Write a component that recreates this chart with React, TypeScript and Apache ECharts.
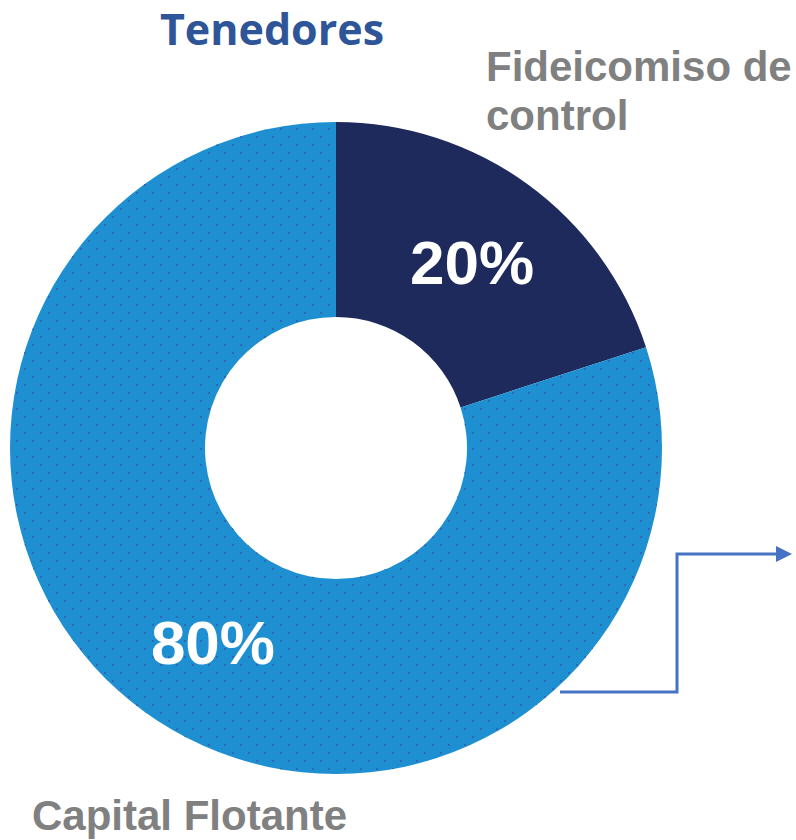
import React, { useEffect, useRef } from "react";
import * as echarts from "echarts";

const categories = ["Fideicomiso de control", "Capital Flotante"];
const values = [20, 80];
const sliceColors = ["#1d2a5b", "#1e8fd0"];
const titleText = "Tenedores";

export default function App() {
  const ref = useRef<HTMLDivElement>(null);
  useEffect(() => {
    const chart = echarts.init(ref.current!, null, { renderer: "svg" });
    const labelOffsets = [
      [0, 2],
      [13, 7],
    ];
    chart.setOption({
      animation: false,
      backgroundColor: "#ffffff",
      series: [
        {
          type: "pie",
          center: [336, 448],
          radius: [131, 326],
          startAngle: 90,
          clockwise: true,
          silent: true,
          label: {
            show: true,
            position: "inside",
            formatter: (p: any) => p.value + "%",
            color: "#ffffff",
            fontFamily: "Liberation Sans",
            fontWeight: "bold",
            fontSize: 62,
          },
          labelLine: { show: false },
          data: categories.map((c, i) => ({
            name: c,
            value: values[i],
            label: { offset: labelOffsets[i] },
            itemStyle: {
              color: sliceColors[i],
              decal:
                i === 1
                  ? {
                      symbol: "rect",
                      symbolSize: 1,
                      color: "#2f67b5",
                      dashArrayX: [
                        [2, 14],
                        [0, 8, 2, 6],
                      ],
                      dashArrayY: [2, 6],
                      rotation: 0,
                    }
                  : "none",
            },
          })),
        },
      ],
      graphic: [
        {
          type: "text",
          x: 272,
          y: 28,
          style: {
            text: titleText,
            fill: "#2e5597",
            font: "bold 43px 'Open Sans'",
            align: "center",
            verticalAlign: "middle",
            lineHeight: 44,
          },
        },
        {
          type: "text",
          left: 486,
          top: 42,
          style: {
            text: "Fideicomiso de\ncontrol",
            fill: "#808080",
            font: "bold 42px 'Liberation Sans'",
            lineHeight: 49,
          },
        },
        {
          type: "text",
          left: 32,
          top: 794,
          style: {
            text: "Capital Flotante",
            fill: "#808080",
            font: "bold 42px 'Liberation Sans'",
          },
        },
        {
          type: "polyline",
          shape: {
            points: [
              [560, 692],
              [677, 692],
              [677, 554],
              [780, 554],
            ],
          },
          style: { stroke: "#4472c4", lineWidth: 3, fill: "none" },
        },
        {
          type: "polygon",
          shape: {
            points: [
              [776, 546],
              [792, 554],
              [776, 562],
            ],
          },
          style: { fill: "#4472c4" },
        },
      ],
    });
    return () => chart.dispose();
  }, []);
  return (
    <div
      ref={ref}
      style={{ position: "absolute", left: 0, top: 0, width: 796, height: 840 }}
    />
  );
}
